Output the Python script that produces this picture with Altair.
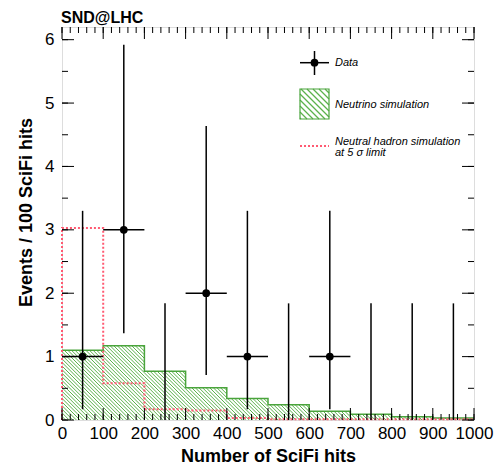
import numpy as np
import pandas as pd
import altair as alt

# ---------------- data ----------------
bin_centers = [50, 150, 250, 350, 450, 550, 650, 750, 850, 950]
bin_edges = [0, 100, 200, 300, 400, 500, 600, 700, 800, 900, 1000]
data_counts = [1, 3, 0, 2, 1, 0, 1, 0, 0, 0]
data_err_low = [0.17, 1.37, 0.0, 0.71, 0.17, 0.0, 0.17, 0.0, 0.0, 0.0]
data_err_high = [3.30, 5.92, 1.84, 4.64, 3.30, 1.84, 3.30, 1.84, 1.84, 1.84]
neutrino_sim = [1.10, 1.17, 0.77, 0.51, 0.34, 0.24, 0.14, 0.09, 0.05, 0.03]
hadron_sim = [3.03, 0.58, 0.17, 0.15, 0.03, 0.01, 0.01, 0.01, 0.01, 0.01]
x_tick_labels = [0, 100, 200, 300, 400, 500, 600, 700, 800, 900, 1000]
y_tick_labels = [0, 1, 2, 3, 4, 5, 6]
x_minor_ticks = list(range(0, 1001, 20))
y_minor_ticks = [0, 0.5, 1, 1.5, 2, 2.5, 3, 3.5, 4, 4.5, 5, 5.5, 6]
legend_labels = ["Data", "Neutrino simulation", "Neutral hadron simulation", "at 5 \u03c3 limit"]
chart_title = "SND@LHC"

# ---------------- layout / style ----------------
W, H = 412, 393
X_MAX, Y_MAX = 1000, 6.2
KX, KY = W / X_MAX, H / Y_MAX
FONT = "Liberation Sans"
GREEN = "#4aa43c"
HATCH = "#5cb24c"
RED = "#ff5a72"

xs = alt.Scale(domain=[0, X_MAX], nice=False, zero=False)
ys = alt.Scale(domain=[0, Y_MAX], nice=False, zero=False)

xaxis = alt.Axis(values=x_tick_labels, format="d", ticks=False, domain=False, grid=False,
                 labelFontSize=17, labelFont=FONT, labelColor="black", labelPadding=5,
                 labelFlush=False, labelOverlap=False,
                 title="Number of SciFi hits", titleFont=FONT, titleFontSize=18,
                 titleFontWeight="bold", titleColor="black", titleX=W / 2, titleY=41,
                 titleBaseline="alphabetic", titleAlign="center")
yaxis = alt.Axis(values=y_tick_labels, format="d", ticks=False, domain=False, grid=False,
                 labelFontSize=17, labelFont=FONT, labelColor="black", labelPadding=8,
                 labelOverlap=False, labelFlush=False,
                 title="Events / 100 SciFi hits", titleFont=FONT, titleFontSize=18,
                 titleFontWeight="bold", titleColor="black", titleX=-31, titleY=185,
                 titleBaseline="alphabetic", titleAlign="center", titleAngle=-90)


def X(f):
    return alt.X(f, type="quantitative", scale=xs, axis=xaxis)


def Y(f):
    return alt.Y(f, type="quantitative", scale=ys, axis=yaxis)


def hatch(rects, step):
    """diagonal hatch lines (top-left to bottom-right) clipped to rectangles (data units)."""
    segs = []
    for a, b, y0, y1 in rects:
        A, B, Y0, Y1 = a * KX, b * KX, y0 * KY, y1 * KY
        for c in np.arange(0, W + 2 * H, step):
            lo = max(A, c - Y1)
            hi = min(B, c - Y0)
            if hi - lo > 0.3:
                segs.append((lo / KX, (c - lo) / KY, hi / KX, (c - hi) / KY))
    return pd.DataFrame(segs, columns=["x", "y", "x2", "y2"])


def px_x(p):
    return p / KX


def px_y(p):
    return (H - p) / KY


# ---------------- tables ----------------
df_data = pd.DataFrame({"x": bin_centers, "n": data_counts, "lo": data_err_low, "hi": data_err_high})
df_data["xl"] = df_data["x"] - 50
df_data["xr"] = df_data["x"] + 50
df_nz = df_data[df_data["n"] > 0]

nu_rects = [(bin_edges[i], bin_edges[i + 1], 0, neutrino_sim[i]) for i in range(len(neutrino_sim))]
df_hatch = hatch(nu_rects, 3.6)
df_nu_step = pd.DataFrame({"x": bin_edges, "y": neutrino_sim + [neutrino_sim[-1]], "o": range(len(bin_edges))})
df_had_step = pd.DataFrame({"x": [0] + bin_edges, "y": [0] + hadron_sim + [hadron_sim[-1]],
                            "o": range(len(bin_edges) + 1)})

# ---------------- layers ----------------
hatch_layer = alt.Chart(df_hatch).mark_rule(color=HATCH, strokeWidth=1).encode(
    x=X("x"), y=Y("y"), x2="x2", y2="y2")

nu_line = alt.Chart(df_nu_step).mark_line(interpolate="step-after", color=GREEN, strokeWidth=1.5).encode(
    x=X("x"), y=Y("y"), order="o:Q")

had_line = alt.Chart(df_had_step).mark_line(interpolate="step-after", color=RED, strokeWidth=2,
                                            strokeDash=[2, 2]).encode(
    x=X("x"), y=Y("y"), order="o:Q")

vbars = alt.Chart(df_data).mark_rule(color="black", strokeWidth=1.5).encode(
    x=X("x"), y=Y("lo"), y2="hi")
hbars = alt.Chart(df_nz).mark_rule(color="black", strokeWidth=1.5).encode(
    x=X("xl"), x2="xr", y=Y("n"))
points = alt.Chart(df_nz).mark_point(filled=True, shape="circle", size=60, color="black", opacity=1).encode(
    x=X("x"), y=Y("n"))

# inward ticks on all four sides
df_xmaj = pd.DataFrame({"t": x_tick_labels})
df_xmin = pd.DataFrame({"t": x_minor_ticks})
df_ymaj = pd.DataFrame({"t": y_tick_labels})
df_ymin = pd.DataFrame({"t": y_minor_ticks})
tk = dict(color="black", strokeWidth=1)
ticks = [
    alt.Chart(df_xmaj).mark_rule(**tk).encode(x=X("t"), y=alt.value(H), y2=alt.value(H - 12)),
    alt.Chart(df_xmin).mark_rule(**tk).encode(x=X("t"), y=alt.value(H), y2=alt.value(H - 6)),
    alt.Chart(df_xmaj).mark_rule(**tk).encode(x=X("t"), y=alt.value(0), y2=alt.value(12)),
    alt.Chart(df_xmin).mark_rule(**tk).encode(x=X("t"), y=alt.value(0), y2=alt.value(6)),
    alt.Chart(df_ymaj).mark_rule(**tk).encode(y=Y("t"), x=alt.value(0), x2=alt.value(12)),
    alt.Chart(df_ymin).mark_rule(**tk).encode(y=Y("t"), x=alt.value(0), x2=alt.value(6)),
    alt.Chart(df_ymaj).mark_rule(**tk).encode(y=Y("t"), x=alt.value(W), x2=alt.value(W - 12)),
    alt.Chart(df_ymin).mark_rule(**tk).encode(y=Y("t"), x=alt.value(W), x2=alt.value(W - 6)),
]

# ---------------- legend (placed in plot pixels, converted to data units) ----------------
lx0, lx1, lxm = px_x(238), px_x(267), px_x(252.5)
leg_data_h = pd.DataFrame({"x": [lx0], "x2": [lx1], "y": [px_y(35.7)]})
leg_data_v = pd.DataFrame({"x": [lxm], "y": [px_y(24)], "y2": [px_y(48)]})
leg_pt = pd.DataFrame({"x": [lxm], "y": [px_y(35.7)]})
box = (lx0, lx1, px_y(92), px_y(62))
leg_box = pd.DataFrame({"x": [box[0]], "x2": [box[1]], "y": [box[2]], "y2": [box[3]]})
leg_box_hatch = hatch([box], 6)
leg_red = pd.DataFrame({"x": [lx0], "x2": [lx1], "y": [px_y(119)]})
leg_text = pd.DataFrame({"x": [px_x(273)] * 4,
                         "y": [px_y(35.5), px_y(78), px_y(115), px_y(125.5)],
                         "t": legend_labels})

legend = [
    alt.Chart(leg_data_h).mark_rule(color="black", strokeWidth=1.5).encode(x=X("x"), x2="x2", y=Y("y")),
    alt.Chart(leg_data_v).mark_rule(color="black", strokeWidth=1.5).encode(x=X("x"), y=Y("y"), y2="y2"),
    alt.Chart(leg_pt).mark_point(filled=True, shape="circle", size=60, color="black", opacity=1).encode(
        x=X("x"), y=Y("y")),
    alt.Chart(leg_box_hatch).mark_rule(color=HATCH, strokeWidth=1.2).encode(x=X("x"), y=Y("y"), x2="x2", y2="y2"),
    alt.Chart(leg_box).mark_rect(fill="transparent", stroke=GREEN, strokeWidth=1.2).encode(
        x=X("x"), x2="x2", y=Y("y"), y2="y2"),
    alt.Chart(leg_red).mark_rule(color=RED, strokeWidth=2, strokeDash=[2, 2]).encode(x=X("x"), x2="x2", y=Y("y")),
    alt.Chart(leg_text).mark_text(align="left", baseline="middle", font=FONT, fontSize=11,
                                  fontStyle="italic", color="black").encode(x=X("x"), y=Y("y"), text="t:N"),
]

title_mark = alt.Chart(pd.DataFrame({"t": [chart_title]})).mark_text(
    align="left", baseline="alphabetic", font=FONT, fontSize=16, fontWeight="bold", color="black"
).encode(x=alt.value(-1), y=alt.value(-4.5), text="t:N")

chart = alt.layer(hatch_layer, nu_line, had_line, vbars, hbars, points, *ticks, *legend, title_mark).properties(
    width=W, height=H,
    autosize=alt.AutoSizeParams(type="none"),
    padding={"left": 54, "top": 19, "right": 20, "bottom": 44},
).configure_view(stroke="black", strokeWidth=2).configure(font=FONT, background="white")

chart.save("out.html", embed_options={"renderer": "svg", "actions": False})
